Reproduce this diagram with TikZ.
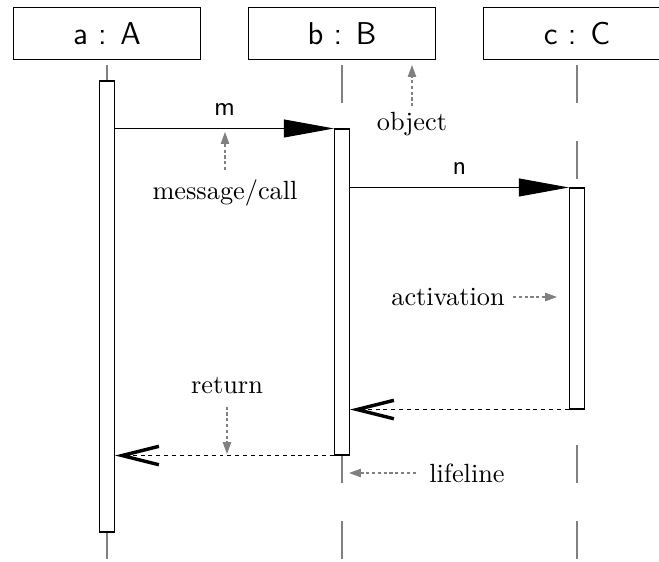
\documentclass[tikz,border=0pt]{standalone}
\usepackage{tikz}
\usetikzlibrary{arrows.meta,positioning,calc,fit}

\tikzset{
  objbox/.style={draw, minimum width=71pt, minimum height=19.8pt, font=\sffamily\large, inner sep=0pt},
  actbox/.style={draw, fill=white, inner sep=0pt},
  lifeline/.style={draw=gray, line width=0.5pt, dash pattern=on 14.45pt off 14.45pt},
  msg/.style={-{Triangle[length=19pt,width=6.8pt]}},
  ret/.style={dash pattern=on 1.5pt off 1.5pt, -{Straight Barb[length=14pt,width=7pt,line width=1.3pt]}},
  note/.style={gray, dash pattern=on 1.2pt off 1pt, -{Triangle[length=4.5pt,width=3.2pt]}},
  notetext/.style={inner sep=0pt},
  msglabel/.style={font=\sffamily, inner sep=0pt}
}

\begin{document}
\begin{tikzpicture}[x=0.38pt,y=-0.38pt]
\useasboundingbox (0,0) rectangle (659,561);
\clip (0,0) rectangle (659,561);

%Lifeline positions
\def\xa{107}
\def\xb{342}
\def\xc{577}
\def\hw{7.5}

%Objects
\node[objbox] (objA) at (\xa,33.5) {a : A};
\node[objbox] (objB) at (\xb,33.5) {b : B};
\node[objbox] (objC) at (\xc,33.5) {c : C};

%Lifelines
\coordinate (endA) at (\xa,561);
\coordinate (endB) at (\xb,561);
\coordinate (endC) at (\xc,561);
\draw[lifeline] ([yshift=-1.9pt]objA.south) -- (endA);
\draw[lifeline] ([yshift=-1.9pt]objB.south) -- (endB);
\draw[lifeline] ([yshift=-1.9pt]objC.south) -- (endC);

%Activations
\node[actbox, fit={(\xa-\hw,81) (\xa+\hw,532)}] (actA) {};
\node[actbox, fit={(\xb-\hw,129) (\xb+\hw,455)}] (actB) {};
\node[actbox, fit={(\xc-\hw,188) (\xc+\hw,409)}] (actC) {};

%Calls and returns
\draw[msg] (actA.east |- actB.north) -- node[msglabel, above=4.8pt] (mlab) {m} (actB.north west);
\draw[msg] (actB.east |- actC.north) -- node[msglabel, above=4.8pt] (nlab) {n} (actC.north west);
\draw[ret] (actC.south west) -- (actB.east |- actC.south);
\draw[ret] (actB.south west) -- (actA.east |- actB.south);

%Notes
\node[notetext] (objnote) at (412,124) {object};
\node[notetext] (callnote) at (225,193) {message/call};
\node[notetext] (actnote) at (448,297) {activation};
\node[notetext] (retnote) at (227,386) {return};
\node[notetext] (lifenote) at (467,473) {lifeline};
\coordinate (objtip) at (412,65);
\coordinate (calltip) at (225,132);
\coordinate (acttip) at (557,297);
\coordinate (rettip) at (227,454);
\coordinate (lifetip) at (349,473);
\draw[note] ([yshift=2pt]objnote.north) -- (objtip);
\draw[note] ([yshift=3.5pt]callnote.north) -- (calltip);
\draw[note] ([xshift=3pt]actnote.east) -- (acttip);
\draw[note] ([yshift=-4.5pt]retnote.south) -- (rettip);
\draw[note] ([xshift=-5pt]lifenote.west) -- (lifetip);

\end{tikzpicture}
\end{document}
